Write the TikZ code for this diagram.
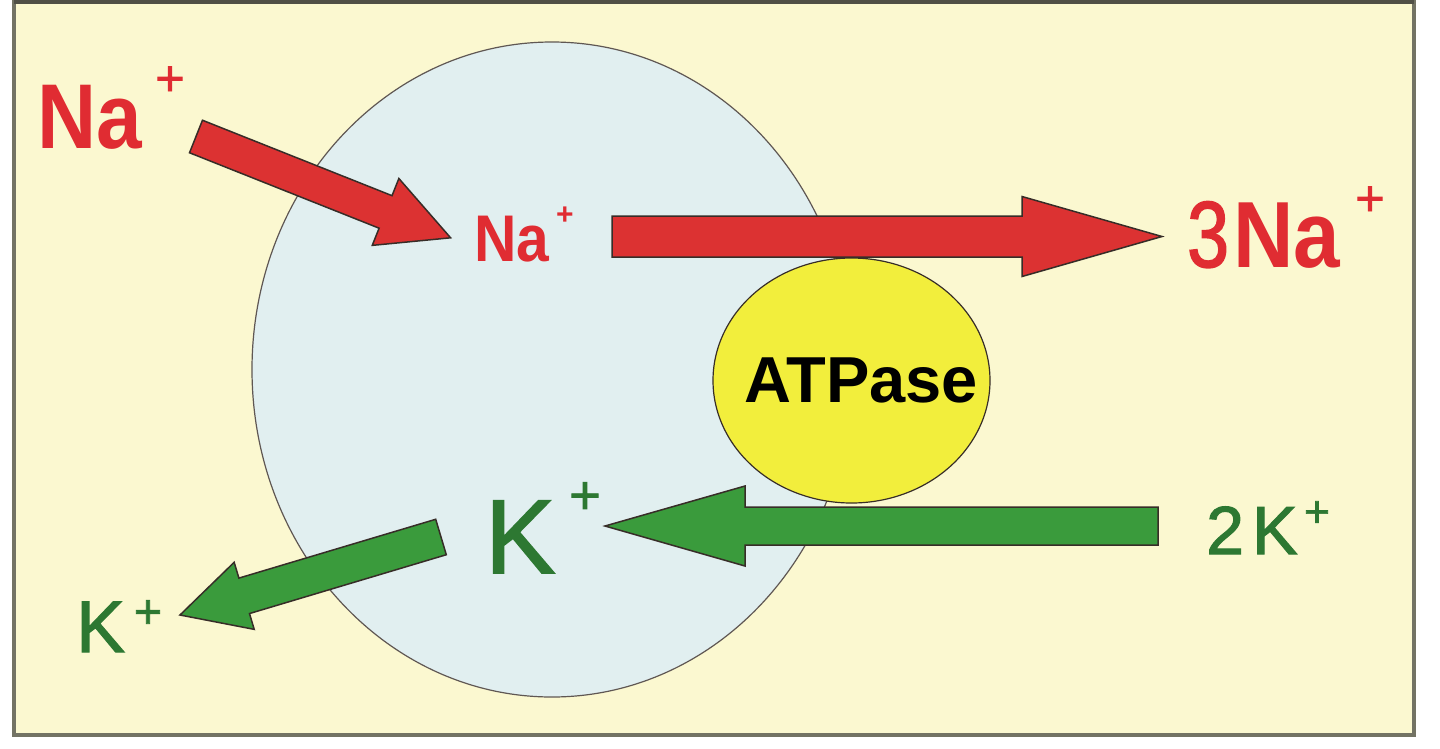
\documentclass[tikz,border=0pt]{standalone}
\usepackage{fontspec}
\setmainfont{Liberation Sans}
\newfontfamily\narrowsans[FakeStretch=0.89]{Liberation Sans}
\newfontfamily\medsans[FakeBold=1.6]{Liberation Sans}
\newfontfamily\medcond[FakeBold=1.6,FakeStretch=0.8]{Liberation Sans}
\usetikzlibrary{calc,shapes.geometric}
\definecolor{bgyellow}{RGB}{251,248,208}
\definecolor{framecol}{RGB}{115,115,100}
\definecolor{cellblue}{RGB}{225,239,240}
\definecolor{atpyellow}{RGB}{242,238,60}
\definecolor{arrred}{RGB}{220,50,50}
\definecolor{txtred}{RGB}{224,44,50}
\definecolor{arrgreen}{RGB}{58,155,60}
\definecolor{txtgreen}{RGB}{45,120,50}
\definecolor{edgedark}{RGB}{55,45,40}
\newcommand\blockarr[6]{% #1 style, #2 tail, #3 tip, #4 half shaft, #5 half head, #6 head length
  \coordinate (ba-b) at ($(#3)!#6!(#2)$);
  \draw[#1] ($(#2)!#4!90:(#3)$) -- ($(ba-b)!#4!90:(#3)$) -- ($(ba-b)!#5!90:(#3)$)
    -- (#3) -- ($(ba-b)!#5!-90:(#3)$) -- ($(ba-b)!#4!-90:(#3)$) -- ($(#2)!#4!-90:(#3)$) -- cycle;
}
\begin{document}
\begin{tikzpicture}[x=1pt,y=-1pt,
  lbl/.style={inner sep=0pt, anchor=base west},
  plussign/.style={inner sep=0pt, anchor=center},
  redarrow/.style={fill=arrred, draw=edgedark, line width=1.5pt, line join=miter},
  greenarrow/.style={fill=arrgreen, draw=edgedark, line width=1.5pt, line join=miter},
  ionred/.style={lbl, text=txtred},
  iongreen/.style={lbl, text=txtgreen}]
\useasboundingbox (0,0) rectangle (1440,748);
\fill[white] (0,0) rectangle (1440,748);
% frame
\draw[fill=bgyellow, draw=framecol, line width=3.5pt] (14,2) rectangle (1414,735);
\draw[draw=framecol!70!black, line width=4pt] (14,2) -- (1414,2);
% cell
\node[ellipse, draw=edgedark!80, fill=cellblue, line width=1.2pt, minimum width=600pt, minimum height=655pt, inner sep=0pt] (cell) at (552,369.5) {};
% ATPase
\node[ellipse, draw=edgedark, fill=atpyellow, line width=1.2pt, minimum width=277pt, minimum height=245pt, inner sep=0pt] (atp) at (851.5,380.5) {};
\node[lbl, font={\bfseries\fontsize{65}{65}\selectfont}] (atptxt) at (744,402) {ATPase};
% coordinates of arrows
\coordinate (r1tail) at (196,136.5);
\coordinate (r1tip) at (450.6,237.8);
\coordinate (r2tail) at (612,236.5);
\coordinate (r2tip) at (1162,236.5);
\coordinate (g1tail) at (1158,526);
\coordinate (g1tip) at (605,526);
\coordinate (g2tail) at (441,537);
\coordinate (g2tip) at (180,615);
\blockarr{redarrow}{r1tail}{r1tip}{17.5pt}{36pt}{70pt}
\blockarr{redarrow}{r2tail}{r2tip}{20.5pt}{40pt}{140pt}
\blockarr{greenarrow}{g1tail}{g1tip}{19pt}{40pt}{140pt}
\blockarr{greenarrow}{g2tail}{g2tip}{18.5pt}{35pt}{67pt}
% labels
\node[ionred, font={\narrowsans\bfseries\fontsize{92}{92}\selectfont}] (naout) at (37,148) {Na};
\node[plussign, text=txtred, font={\medsans\fontsize{50}{50}\selectfont}] (naoutp) at (170,81) {+};
\node[ionred, font={\narrowsans\bfseries\fontsize{66}{66}\selectfont}] (nain) at (474,261) {Na};
\node[plussign, text=txtred, font={\bfseries\fontsize{30}{30}\selectfont}] (nainp) at (565,216) {+};
\node[ionred, font={\medcond\fontsize{94}{94}\selectfont}] (three) at (1187,267) {3};
\node[ionred, font={\narrowsans\bfseries\fontsize{94}{94}\selectfont}] (naext) at (1233,267) {Na};
\node[plussign, text=txtred, font={\medsans\fontsize{50}{50}\selectfont}] (naextp) at (1370,201) {+};
\node[iongreen, font={\medsans\fontsize{105}{105}\selectfont}] (kin) at (485,573) {K};
\node[plussign, text=txtgreen, font={\medsans\fontsize{54}{54}\selectfont}] (kinp) at (585,498) {+};
\node[iongreen, font={\medsans\fontsize{68}{68}\selectfont}] (two) at (1206,554) {2};
\node[iongreen, font={\medsans\fontsize{68}{68}\selectfont}] (kext) at (1252,554) {K};
\node[plussign, text=txtgreen, font={\medsans\fontsize{44}{44}\selectfont}] (kextp) at (1317,514) {+};
\node[iongreen, font={\medsans\fontsize{73}{73}\selectfont}] (kout) at (76,652) {K};
\node[plussign, text=txtgreen, font={\medsans\fontsize{48}{48}\selectfont}] (koutp) at (148,614) {+};
\end{tikzpicture}
\end{document}
